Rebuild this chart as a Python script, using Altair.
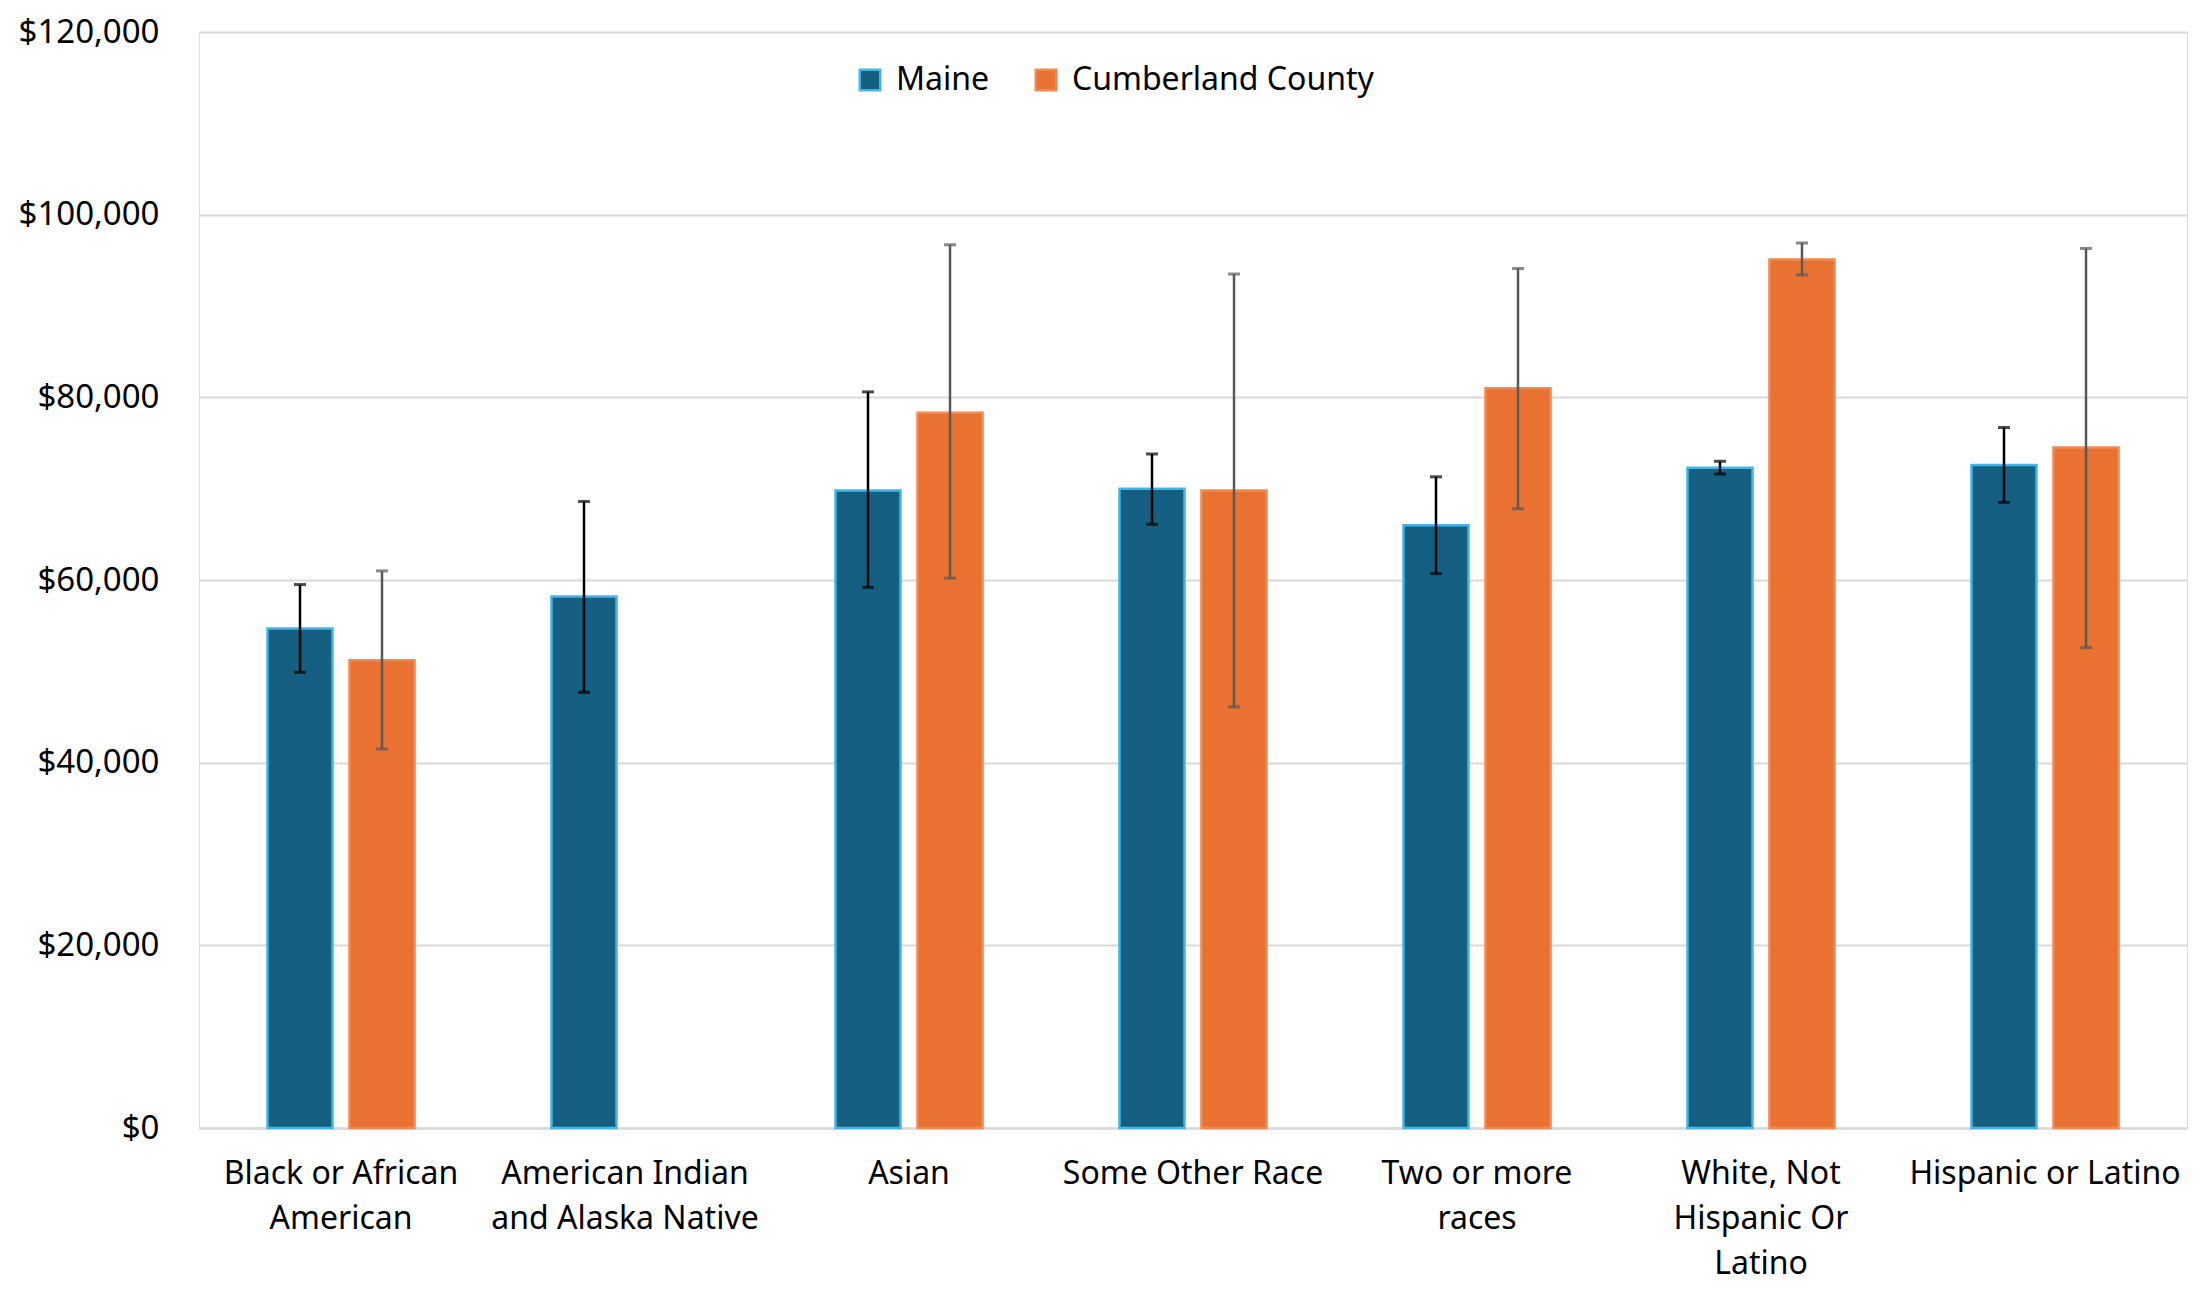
import json
import altair as alt
import pandas as pd

categories = [
    "Black or African American",
    "American Indian and Alaska Native",
    "Asian",
    "Some Other Race",
    "Two or more races",
    "White, Not Hispanic Or Latino",
    "Hispanic or Latino",
]
label_lines = [
    ["Black or African", "American"],
    ["American Indian", "and Alaska Native"],
    ["Asian"],
    ["Some Other Race"],
    ["Two or more", "races"],
    ["White, Not", "Hispanic Or", "Latino"],
    ["Hispanic or Latino"],
]
series = ["Maine", "Cumberland County"]

maine_vals = [54700, 58200, 69800, 70000, 66000, 72300, 72600]
maine_low = [49900, 47700, 59200, 66100, 60700, 71600, 68500]
maine_high = [59500, 68600, 80600, 73800, 71300, 73000, 76700]

cumb_vals = [51200, None, 78300, 69800, 81000, 95100, 74500]
cumb_low = [41500, None, 60200, 46100, 67800, 93400, 52600]
cumb_high = [61000, None, 96700, 93500, 94100, 96900, 96300]

y_ticks = [0, 20000, 40000, 60000, 80000, 100000, 120000]

rows = []
for i, c in enumerate(categories):
    rows.append(dict(cat=c, series="Maine", value=maine_vals[i], low=maine_low[i], high=maine_high[i]))
    if cumb_vals[i] is not None:
        rows.append(dict(cat=c, series="Cumberland County", value=cumb_vals[i], low=cumb_low[i], high=cumb_high[i]))
df = pd.DataFrame(rows)

FONT = "Noto Sans"
label_map = json.dumps(dict(zip(categories, label_lines)))

x = alt.X(
    "cat:N",
    sort=categories,
    title=None,
    scale=alt.Scale(paddingInner=0, paddingOuter=0),
    axis=alt.Axis(
        labelExpr=f"({label_map})[datum.value]",
        labelAngle=0,
        labelFont=FONT,
        labelFontSize=32,
        labelColor="#000000",
        labelPadding=30,
        labelLineHeight=45,
        labelLimit=400,
        ticks=False,
        domain=True,
        domainColor="#D9D9D9",
        domainWidth=2.5,
        grid=False,
    ),
)
xo = alt.XOffset(
    "series:N",
    sort=series,
    scale=alt.Scale(domain=series, paddingInner=0.207, paddingOuter=0.835),
)
y_scale = alt.Scale(domain=[0, 120000], nice=False)

bars = (
    alt.Chart(df)
    .mark_bar(strokeWidth=2.5)
    .encode(
        x=x,
        xOffset=xo,
        y=alt.Y(
            "value:Q",
            title=None,
            scale=y_scale,
            axis=alt.Axis(
                values=y_ticks,
                format="$,.0f",
                labelFont=FONT,
                labelFontSize=33,
                labelColor="#000000",
                labelPadding=40,
                ticks=False,
                domain=False,
                gridColor="#D9D9D9",
                gridWidth=2,
            ),
        ),
        fill=alt.Fill(
            "series:N",
            sort=series,
            scale=alt.Scale(domain=series, range=["#156082", "#E97132"]),
            legend=alt.Legend(
                title=None,
                orient="none",
                legendX=655,
                legendY=32,
                direction="horizontal",
                labelFont=FONT,
                labelFontSize=32,
                labelColor="#000000",
                labelLimit=600,
                symbolType="square",
                symbolSize=420,
                symbolStrokeWidth=2.5,
                labelOffset=10,
                columnPadding=40,
            ),
        ),
        stroke=alt.Stroke(
            "series:N",
            sort=series,
            scale=alt.Scale(domain=series, range=["#45B5E5", "#F08A50"]),
        ),
    )
)

err_color = alt.condition(
    alt.datum.series == "Maine", alt.value("#000000"), alt.value("#595959")
)

rules = (
    alt.Chart(df)
    .mark_rule(strokeWidth=2.5)
    .encode(x=x, xOffset=xo, y=alt.Y("low:Q", scale=y_scale), y2="high:Q", color=err_color)
)
caps_low = (
    alt.Chart(df)
    .mark_tick(orient="horizontal", size=12, thickness=3)
    .encode(x=x, xOffset=xo, y=alt.Y("low:Q", scale=y_scale), color=err_color)
)
caps_high = (
    alt.Chart(df)
    .mark_tick(orient="horizontal", size=12, thickness=3)
    .encode(x=x, xOffset=xo, y=alt.Y("high:Q", scale=y_scale), color=err_color)
)

chart = (
    alt.layer(bars, rules, caps_low, caps_high)
    .properties(
        width=1988,
        height=1096,
        autosize=alt.AutoSizeParams(type="none"),
        padding={"left": 191, "top": 24, "right": 12, "bottom": 153},
    )
    .configure_view(stroke=None)
    .configure(background="#FFFFFF")
)

chart.save("out.html", embed_options={"renderer": "svg", "actions": False})
